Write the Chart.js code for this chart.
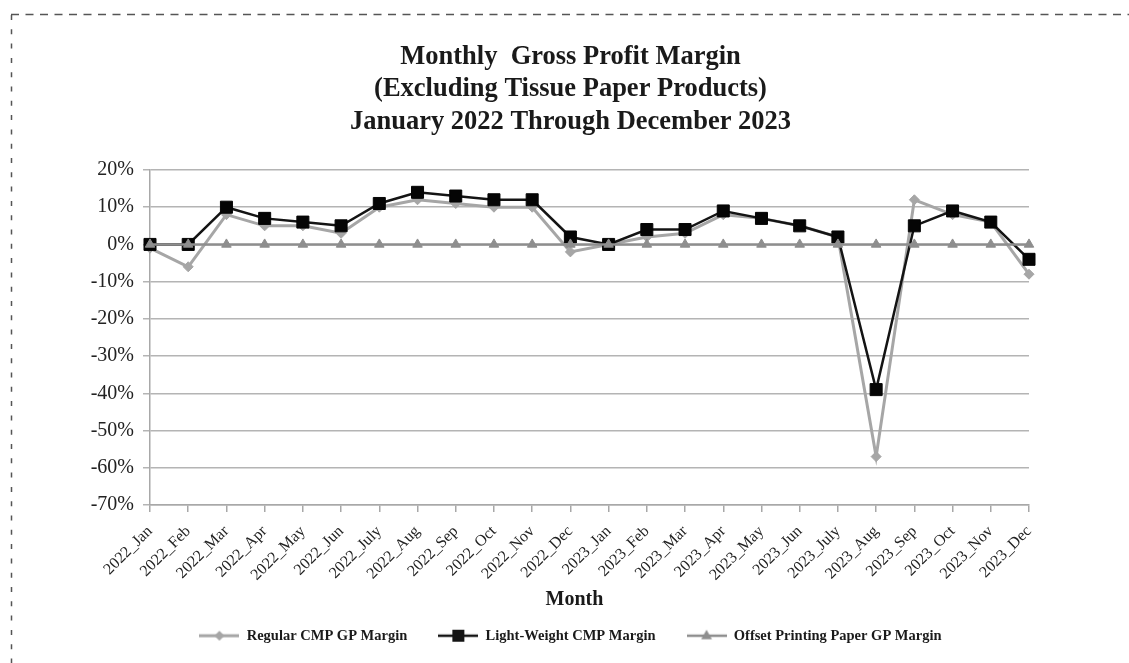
<!DOCTYPE html>
<html>
<head>
<meta charset="utf-8">
<script src="https://cdn.jsdelivr.net/npm/chart.js@4"></script>
<style>
html,body{margin:0;padding:0;background:#fff;}
#wrap{width:1129px;height:663px;position:relative;}
</style>
</head>
<body>
<div id="wrap"><canvas id="c" width="1129" height="663"></canvas></div>
<script>
const categories = ['2022_Jan','2022_Feb','2022_Mar','2022_Apr','2022_May','2022_Jun','2022_July','2022_Aug','2022_Sep','2022_Oct','2022_Nov','2022_Dec',
  '2023_Jan','2023_Feb','2023_Mar','2023_Apr','2023_May','2023_Jun','2023_July','2023_Aug','2023_Sep','2023_Oct','2023_Nov','2023_Dec'];
const regularCMP = [-1,-6,8,5,5,3,10,12,11,10,10,-2,0,2,3,8,7,5,2,-57,12,8,6,-8];
const lightWeightCMP = [0,0,10,7,6,5,11,14,13,12,12,2,0,4,4,9,7,5,2,-39,5,9,6,-4];
const offsetPrinting = [0,0,0,0,0,0,0,0,0,0,0,0,0,0,0,0,0,0,0,0,0,0,0,0];
const seriesNames = ['Regular CMP GP Margin','Light-Weight CMP Margin','Offset Printing Paper GP Margin'];
const titleLines = ['Monthly  Gross Profit Margin','(Excluding Tissue Paper Products)','January 2022 Through December 2023'];
const xAxisTitle = 'Month';

const SERIF = "'Liberation Serif', 'Times New Roman', serif";
const colors = ['#a6a6a6', '#141414', '#8e8e8e'];

function makeIcon(color, lineW, shape, r) {
  const c = document.createElement('canvas');
  c.width = 40; c.height = 18;
  const g = c.getContext('2d');
  g.strokeStyle = color; g.lineWidth = lineW;
  g.beginPath(); g.moveTo(0, 9); g.lineTo(40, 9); g.stroke();
  g.fillStyle = color;
  const cx = 20, cy = 9;
  g.beginPath();
  if (shape === 'diamond') {
    g.moveTo(cx, cy - r); g.lineTo(cx + r, cy); g.lineTo(cx, cy + r); g.lineTo(cx - r, cy);
  } else if (shape === 'square') {
    g.rect(cx - r, cy - r, 2 * r, 2 * r);
  } else {
    g.moveTo(cx, cy - r); g.lineTo(cx + r * 0.9, cy + r * 0.6); g.lineTo(cx - r * 0.9, cy + r * 0.6);
  }
  g.closePath(); g.fill();
  return c;
}
const legendIcons = [
  makeIcon(colors[0], 3, 'diamond', 5),
  makeIcon(colors[1], 2.5, 'square', 6),
  makeIcon(colors[2], 2.5, 'triangle', 6)
];

const framePlugin = {
  id: 'frame',
  beforeDraw(chart) {
    const g = chart.ctx;
    g.save();
    g.fillStyle = '#fff';
    g.fillRect(0, 0, chart.width, chart.height);
    g.strokeStyle = '#555';
    g.lineWidth = 1.5;
    g.setLineDash([8, 6.5]);
    g.beginPath(); g.moveTo(11, 14.5); g.lineTo(1129, 14.5); g.stroke();
    g.setLineDash([5, 9.3]);
    g.beginPath(); g.moveTo(11.5, 15); g.lineTo(11.5, 663); g.stroke();
    g.restore();
  }
};

new Chart(document.getElementById('c').getContext('2d'), {
  type: 'line',
  data: {
    labels: categories,
    datasets: [
      { label: seriesNames[0], data: regularCMP, borderColor: colors[0], backgroundColor: colors[0],
        borderWidth: 3, pointStyle: 'rectRot', pointRadius: 5, pointBorderWidth: 1,
        pointBackgroundColor: colors[0], pointBorderColor: colors[0], order: 3, tension: 0 },
      { label: seriesNames[1], data: lightWeightCMP, borderColor: colors[1], backgroundColor: colors[1],
        borderWidth: 2.5, pointStyle: 'rect', pointRadius: 8.5, pointBorderWidth: 1,
        pointBackgroundColor: '#050505', pointBorderColor: '#050505', order: 2, tension: 0 },
      { label: seriesNames[2], data: offsetPrinting, borderColor: colors[2], backgroundColor: colors[2],
        borderWidth: 2.5, pointStyle: 'triangle', pointRadius: 5.5, pointBorderWidth: 1,
        pointBackgroundColor: colors[2], pointBorderColor: colors[2], order: 1, tension: 0 }
    ]
  },
  options: {
    responsive: false,
    animation: false,
    devicePixelRatio: 1,
    layout: { padding: { left: 12, right: 0, top: 22, bottom: 10 } },
    plugins: {
      tooltip: { enabled: false },
      title: {
        display: true,
        text: titleLines,
        color: '#1a1a1a',
        font: { family: SERIF, size: 26.5, weight: 'bold', lineHeight: 1.22 },
        padding: { top: 19, bottom: 32 }
      },
      legend: {
        position: 'bottom',
        labels: {
          usePointStyle: true,
          pointStyleWidth: 40,
          padding: 31,
          color: '#1a1a1a',
          font: { family: SERIF, size: 14.5, weight: 'bold' },
          generateLabels: (chart) => chart.data.datasets.map((ds, i) => ({
            text: ds.label, pointStyle: legendIcons[i], fillStyle: ds.borderColor,
            strokeStyle: ds.borderColor, lineWidth: 0, hidden: false, datasetIndex: i, fontColor: '#1a1a1a'
          }))
        }
      }
    },
    scales: {
      x: {
        type: 'category',
        offset: false,
        afterFit: (s) => { s.height = 92.5; },
        grid: { display: true, drawOnChartArea: false, drawTicks: true, tickLength: 7, color: '#a8a8a8', lineWidth: 1.5 },
        border: { display: true, color: '#a8a8a8', width: 1.5 },
        ticks: { autoSkip: false, minRotation: 45, maxRotation: 45, padding: 10, color: '#222',
          font: { family: SERIF, size: 16 } },
        title: { display: true, text: xAxisTitle + '\u00a0\u00a0\u00a0\u00a0\u00a0\u00a0', color: '#1a1a1a',
          font: { family: SERIF, size: 20, weight: 'bold' }, padding: { top: 0, bottom: -14 } }
      },
      y: {
        type: 'linear',
        position: 'left',
        min: -70, max: 20,
        afterFit: (s) => { s.width = 138; },
        grid: { color: '#b4b4b4', lineWidth: 1.5, drawTicks: true, tickLength: 7 },
        border: { display: true, color: '#a8a8a8', width: 1.5 },
        ticks: { stepSize: 10, padding: 9, color: '#222', font: { family: SERIF, size: 20 },
          callback: (v) => v + '%' }
      },
      yRight: {
        type: 'linear',
        position: 'right',
        display: true,
        afterFit: (s) => { s.width = 100; },
        grid: { display: false, drawTicks: false },
        border: { display: false },
        ticks: { display: false }
      }
    }
  },
  plugins: [framePlugin]
});
</script>
</body>
</html>
